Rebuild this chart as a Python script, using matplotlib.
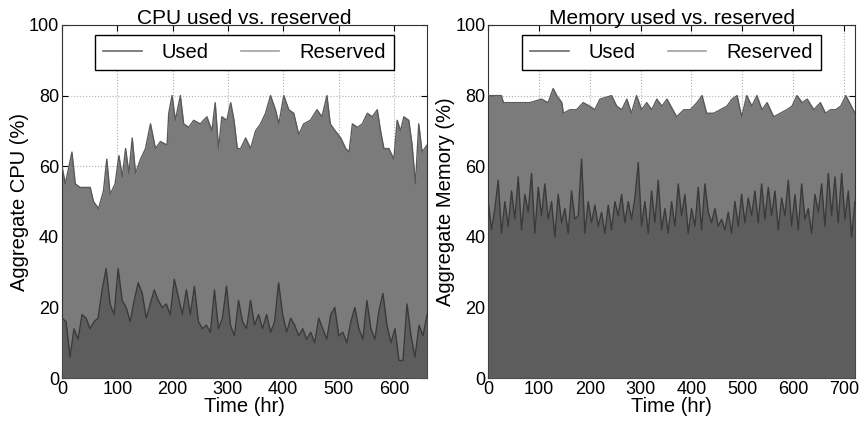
import numpy as np
import matplotlib
matplotlib.use("Agg")
import matplotlib.pyplot as plt

plt.rcParams['font.family'] = ['Liberation Sans', 'DejaVu Sans']

# ---- CPU panel data (hours, %) ----
cpu_res_t = [0, 6, 18, 24, 33, 51, 57, 66, 75, 81, 87, 96, 103, 109, 115, 121, 127, 133, 142, 151,
             160, 169, 178, 190, 193, 199, 205, 214, 220, 229, 238, 250, 262, 271, 277, 283, 289, 298,
             305, 311, 317, 323, 332, 341, 350, 359, 368, 377, 386, 392, 401, 410, 419, 428, 437, 449,
             461, 470, 479, 485, 494, 504, 513, 519, 525, 534, 543, 552, 561, 570, 576, 582, 591, 600,
             606, 612, 618, 627, 633, 639, 645, 651, 660]
cpu_res_v = [60, 55, 64, 55, 54, 54, 50, 48, 53, 62, 52, 55, 63, 57, 65, 58, 68, 58, 62, 65,
             72, 65, 67, 66, 75, 80, 73, 80, 72, 71, 73, 72, 74, 70, 78, 65, 74, 73,
             78, 73, 65, 65, 68, 65, 70, 72, 75, 80, 76, 72, 80, 76, 75, 69, 72, 73,
             76, 74, 80, 72, 70, 68, 65, 64, 72, 71, 72, 75, 74, 76, 70, 65, 65, 62,
             73, 70, 74, 73, 66, 55, 72, 64, 66]
cpu_used_v = [17, 16, 6, 14, 11, 18, 17, 14, 16, 17, 25, 31, 21, 18, 31, 22, 20, 16, 22, 27,
              24, 17, 21, 25, 22, 20, 21, 18, 28, 23, 18, 25, 18, 26, 16, 14, 15, 13, 25, 14,
              17, 26, 15, 12, 22, 16, 14, 22, 15, 18, 14, 18, 13, 16, 27, 18, 13, 17, 15, 12,
              14, 11, 13, 10, 17, 14, 11, 18, 20, 12, 13, 10, 16, 20, 14, 11, 22, 14, 11, 19,
              24, 15, 10, 14, 5, 5, 21, 12, 6, 15, 12, 18]

# ---- Memory panel data (hours, %) ----
mem_res_t = [0, 26, 30, 56, 82, 105, 118, 128, 135, 145, 148, 161, 174, 187, 200, 210, 220, 243,
             253, 263, 273, 282, 292, 302, 312, 322, 332, 342, 352, 371, 385, 398, 411, 421, 430,
             444, 457, 470, 480, 490, 499, 509, 519, 529, 539, 549, 562, 575, 588, 598, 608, 618,
             628, 641, 654, 664, 674, 684, 694, 704, 722]
mem_res_v = [80, 80, 78, 78, 78, 79, 78, 82, 80, 78, 75, 76, 76, 78, 77, 76, 79, 80,
             77, 76, 79, 75, 80, 76, 78, 76, 79, 77, 79, 74, 76, 76, 78, 80, 75,
             75, 76, 77, 79, 80, 74, 80, 77, 80, 76, 78, 74, 75, 76, 77, 80,
             78, 79, 76, 78, 75, 76, 76, 77, 80, 75]
mem_used_v = [50, 42, 48, 56, 41, 50, 43, 53, 45, 57, 42, 52, 47, 58, 41, 54, 46, 55, 45, 50,
              40, 52, 44, 48, 41, 53, 45, 46, 62, 41, 50, 44, 49, 43, 47, 41, 49, 42, 50, 46,
              52, 44, 50, 45, 51, 61, 43, 50, 41, 53, 44, 56, 42, 48, 41, 50, 43, 55, 46, 52,
              41, 48, 43, 54, 42, 55, 47, 44, 48, 43, 45, 42, 47, 41, 50, 43, 52, 44, 51, 46,
              53, 44, 55, 45, 54, 46, 53, 42, 51, 46, 56, 43, 52, 42, 55, 45, 48, 41, 52, 47,
              55, 43, 58, 46, 57, 44, 58, 45, 53, 40, 50]

cpu_xlim, mem_xlim = 660, 722
cpu_used_t = np.linspace(0, cpu_xlim, len(cpu_used_v))
mem_used_t = np.linspace(0, mem_xlim, len(mem_used_v))

RES_FILL = '#7b7b7b'
USED_FILL = '#5d5d5d'
USED_LINE = '#3a3a3a'
RES_LINE = '#5a5a5a'

fig = plt.figure(figsize=(8.61, 4.23), dpi=100)
ax1 = fig.add_axes([0.072, 0.106, 0.424, 0.835])
ax2 = fig.add_axes([0.567, 0.106, 0.426, 0.835])


def panel(ax, rt, rv, ut, uv, xmax, xticks, title, ylabel):
    ax.fill_between(rt, rv, 0, color=RES_FILL, lw=0, zorder=2)
    ax.plot(rt, rv, color=RES_LINE, lw=1.0, zorder=3)
    ax.fill_between(ut, uv, 0, color=USED_FILL, lw=0, zorder=4)
    ax.plot(ut, uv, color=USED_LINE, lw=1.0, zorder=5)
    ax.set_xlim(0, xmax)
    ax.set_ylim(0, 100)
    ax.set_xticks(xticks)
    ax.set_yticks([0, 20, 40, 60, 80, 100])
    ax.grid(True, linestyle=':', color='#b0b0b0', lw=0.8, zorder=1)
    ax.set_axisbelow(True)
    ax.tick_params(direction='in', top=True, right=True, labelsize=13, length=4, pad=2)
    ax.set_title(title, fontsize=15, pad=1)
    ax.set_xlabel('Time (hr)', fontsize=14.5, labelpad=-1)
    ax.set_ylabel(ylabel, fontsize=14.5, labelpad=0)
    for s in ax.spines.values():
        s.set_color('#333333')
    h1, = ax.plot([], [], color='#6a6a6a', lw=1.2)
    h2, = ax.plot([], [], color='#a0a0a0', lw=1.2)
    leg = ax.legend([h1, h2], ['Used', 'Reserved'], ncol=2, loc='upper center',
                    bbox_to_anchor=(0.5, 0.972), borderaxespad=0, fontsize=14.5,
                    fancybox=False, framealpha=1, edgecolor='black', handlelength=1.9,
                    columnspacing=1.6, borderpad=0.4, handletextpad=1.0)
    leg.get_frame().set_linewidth(1.0)
    leg.set_zorder(10)


panel(ax1, cpu_res_t, cpu_res_v, cpu_used_t, cpu_used_v, cpu_xlim,
      [0, 100, 200, 300, 400, 500, 600], 'CPU used vs. reserved', 'Aggregate CPU (%)')
panel(ax2, mem_res_t, mem_res_v, mem_used_t, mem_used_v, mem_xlim,
      [0, 100, 200, 300, 400, 500, 600, 700], 'Memory used vs. reserved', 'Aggregate Memory (%)')

fig.savefig('out.png', dpi=100)
